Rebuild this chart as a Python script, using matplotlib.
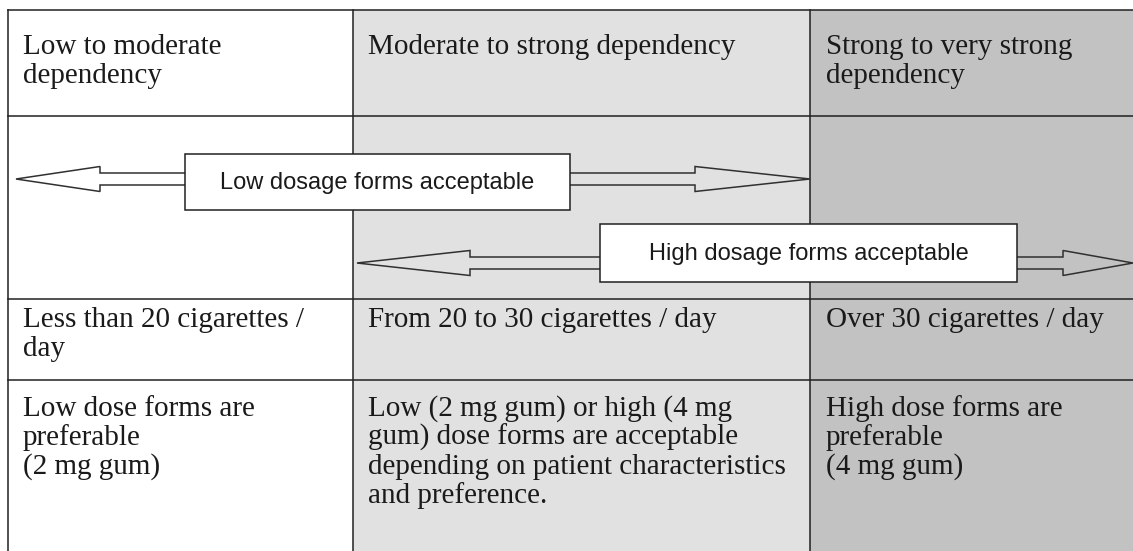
import matplotlib
matplotlib.use("Agg")
import matplotlib.pyplot as plt
from matplotlib.patches import Rectangle, Polygon

# table content
headers = [
    ["Low to moderate", "dependency"],
    ["Moderate to strong dependency"],
    ["Strong to very strong", "dependency"],
]
cigarettes = [
    ["Less than 20 cigarettes /", "day"],
    ["From 20 to 30 cigarettes / day"],
    ["Over 30 cigarettes / day"],
]
advice = [
    ["Low dose forms are", "preferable", "(2 mg gum)"],
    ["Low (2 mg gum) or high (4 mg", "gum) dose forms are acceptable",
     "depending on patient characteristics", "and preference."],
    ["High dose forms are", "preferable", "(4 mg gum)"],
]
arrow_labels = ["Low dosage forms acceptable", "High dosage forms acceptable"]

# layout (pixel coords, y downwards)
W, H = 1133, 551
col_x = [8, 353, 810, 1140]
row_y = [10, 116, 299, 380, 560]
col_bg = ["#ffffff", "#e1e1e1", "#c2c2c2"]
text_dx = [15, 15, 16]
line_h = 29
serif = ["Liberation Serif", "DejaVu Serif"]
sans = ["Liberation Sans", "DejaVu Sans"]

fig = plt.figure(figsize=(W / 100, H / 100), dpi=100)
ax = fig.add_axes([0, 0, 1, 1])
ax.set_xlim(0, W)
ax.set_ylim(H, 0)
ax.axis("off")

for i in range(3):
    ax.add_patch(Rectangle((col_x[i], row_y[0]), col_x[i + 1] - col_x[i],
                           row_y[-1] - row_y[0], facecolor=col_bg[i],
                           edgecolor="none", zorder=0))

lc = "#202020"
for x in col_x[:3]:
    ax.plot([x, x], [row_y[0], H + 5], color=lc, lw=1.1, zorder=1)
for y in row_y[:4]:
    ax.plot([col_x[0], W + 5], [y, y], color=lc, lw=1.1, zorder=1)


def cell_text(lines, col, first_baseline):
    for k, s in enumerate(lines):
        ax.text(col_x[col] + text_dx[col], first_baseline + k * line_h, s,
                family=serif, fontsize=21, color="#1a1a1a", va="baseline",
                ha="left", zorder=3)


for i in range(3):
    cell_text(headers[i], i, 54)
    cell_text(cigarettes[i], i, 327)
    cell_text(advice[i], i, 416)


def arrow(x0, x1, y, head0, head1, shaft=6, head=12.5):
    pts = [
        (x0, y),
        (x0 + head0, y - head), (x0 + head0, y - shaft),
        (x1 - head1, y - shaft), (x1 - head1, y - head),
        (x1, y), (x1 - head1, y + head), (x1 - head1, y + shaft),
        (x0 + head0, y + shaft), (x0 + head0, y + head),
    ]
    ax.add_patch(Polygon(pts, closed=True, fill=False, edgecolor="#303030",
                         lw=1.1, zorder=2))


def label_box(x0, x1, y0, y1, s):
    ax.add_patch(Rectangle((x0, y0), x1 - x0, y1 - y0, facecolor="white",
                           edgecolor="#202020", lw=1.1, zorder=4))
    ax.text((x0 + x1) / 2, (y0 + y1) / 2 + 1, s, family=sans, fontsize=17,
            color="#1a1a1a", ha="center", va="center", zorder=5)


arrow(16, 810, 179, 84, 115)
label_box(185, 570, 154, 210, arrow_labels[0])
arrow(357, 1133, 263, 113, 70)
label_box(600, 1017, 224, 282, arrow_labels[1])

fig.savefig("out.png", dpi=100)
